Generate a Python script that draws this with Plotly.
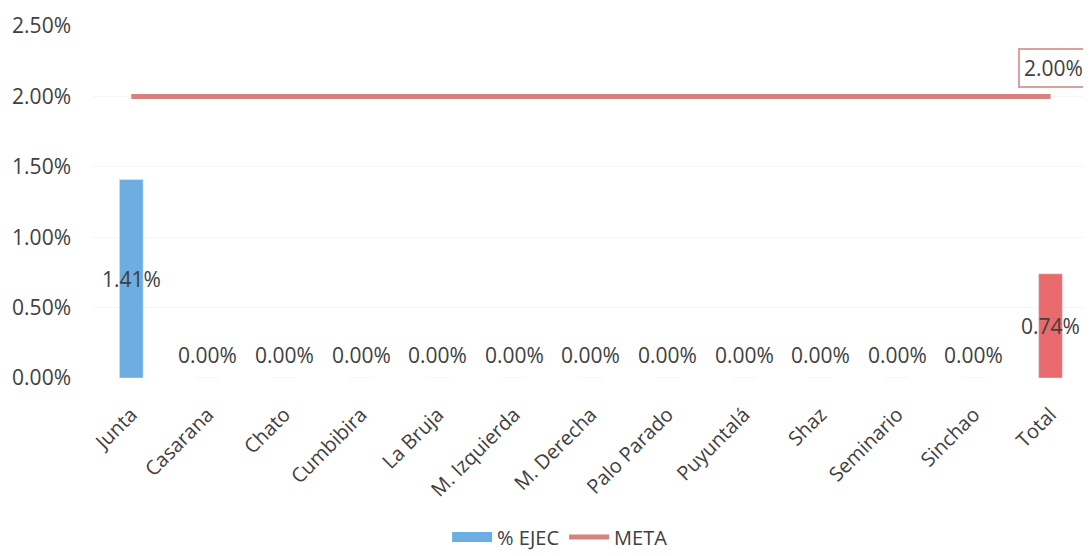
import plotly.graph_objects as go

categories = ["Junta", "Casarana", "Chato", "Cumbibira", "La Bruja", "M. Izquierda",
              "M. Derecha", "Palo Parado", "Puyuntalá", "Shaz", "Seminario", "Sinchao", "Total"]
ejec = [0.0141, 0, 0, 0, 0, 0, 0, 0, 0, 0, 0, 0, 0.0074]
meta = [0.02] * len(categories)
y_ticks = [0, 0.005, 0.01, 0.015, 0.02, 0.025]

BLUE = "#6caee2"
RED = "#e86a6c"
LINE = "#d88080"
TXT = "#404040"
FONT = "Open Sans"

bar_colors = [RED if c == "Total" else BLUE for c in categories]

fig = go.Figure()
fig.add_trace(go.Bar(x=categories, y=ejec, name="% EJEC", marker_color=bar_colors,
                     width=0.31, showlegend=False, legendgroup="ejec"))
# legend entry for the bar series drawn as a wide swatch
fig.add_trace(go.Scatter(x=[None], y=[None], name="% EJEC", mode="lines",
                         line=dict(color=BLUE, width=12), legendgroup="ejec"))
fig.add_trace(go.Scatter(x=categories, y=meta, name="META", mode="lines",
                         line=dict(color=LINE, width=5)))

annotations = []
for c, v in zip(categories, ejec):
    if v > 0:
        annotations.append(dict(x=c, y=v / 2, text=f"{v*100:.2f}%", showarrow=False,
                                font=dict(size=21, color=TXT, family=FONT)))
    else:
        annotations.append(dict(x=c, y=0, yshift=23, text=f"{v*100:.2f}%", showarrow=False,
                                font=dict(size=21, color=TXT, family=FONT)))
annotations.append(dict(x=categories[-1], y=meta[-1], yshift=28, xshift=3,
                        text=f"{meta[-1]*100:.2f}%", showarrow=False,
                        bordercolor="#dba0a0", borderwidth=2, borderpad=4, bgcolor="white",
                        font=dict(size=21, color=TXT, family=FONT)))

# page body has an 8px margin, so the figure is sized/offset to fill the 1091x556 window
fig.update_layout(
    width=1083, height=548,
    margin=dict(l=85, r=2, t=18, b=178, autoexpand=False),
    paper_bgcolor="white", plot_bgcolor="white",
    font=dict(family=FONT, size=20, color=TXT),
    annotations=annotations,
    legend=dict(orientation="h", x=0.469, xanchor="center", y=-0.452, yanchor="middle",
                font=dict(size=20, color=TXT, family=FONT), itemwidth=40,
                tracegroupgap=0),
)
fig.update_yaxes(range=[0, 0.025], tickvals=y_ticks, tickformat=".2%", automargin=False,
                 showgrid=True, gridcolor="#f6f6f6", zeroline=False, showline=False,
                 ticklabelstandoff=21, tickfont=dict(size=21, color=TXT))
fig.update_xaxes(tickangle=-45, showline=False, showgrid=False, automargin=False,
                 ticklabelstandoff=20, tickfont=dict(size=20, color=TXT))

fig.write_html("out.html")
